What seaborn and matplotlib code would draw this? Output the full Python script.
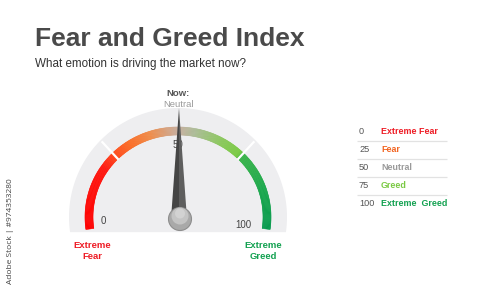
import numpy as np
import matplotlib
matplotlib.use("Agg")
import matplotlib.pyplot as plt
import seaborn as sns
from matplotlib.colors import LinearSegmentedColormap

# ---------------- data ----------------
title = "Fear and Greed Index"
subtitle = "What emotion is driving the market now?"
needle_value = 50
now_label = "Neutral"
zone_bounds = [0, 25, 75, 100]
gauge_ticks = [0, 50, 100]
end_labels = ["Extreme\nFear", "Extreme\nGreed"]
table_values = [0, 25, 50, 75, 100]
table_labels = ["Extreme Fear", "Fear", "Neutral", "Greed", "Extreme  Greed"]
table_colors = ["#ee1c25", "#f26522", "#9a9a9a", "#7ac943", "#12a150"]
side_note = "Adobe Stock | #974353280"

# ---------------- style ----------------
sns.set_theme(style="white")
plt.rcParams["font.family"] = ["Liberation Sans", "DejaVu Sans"]

fig = plt.figure(figsize=(5, 2.94), dpi=100)
ax = fig.add_axes([0, 0, 1, 1])
ax.set_xlim(0, 500)
ax.set_ylim(294, 0)
ax.axis("off")

# gauge geometry (pixel space)
cx, cy = 178, 217
rx_out, ry_out = 93, 90
thick = 8
bg_r = 109

def val2ang(v):
    return np.interp(v, [0, 25, 75, 100], [188, 135, 45, -8])

def ell(t_deg, rx, ry):
    t = np.radians(t_deg)
    return cx + rx * np.cos(t), cy - ry * np.sin(t)

# background half disc
t = np.linspace(188, -8, 300)
bx, by = ell(t, bg_r, bg_r)
ax.fill(bx, by, color="#eeeef0", lw=0, zorder=1)

# gradient arc
stops_v = [0, 20, 25, 32, 40, 50, 56, 66, 74, 75, 88, 100]
stops_c = ["#ff0000", "#ff1810", "#ff4a1e", "#fb6e28", "#ef8c4a", "#c8ae9e",
           "#adbc98", "#8cc85e", "#7acb42", "#3cb54a", "#1aa84d", "#079a4e"]
cmap = LinearSegmentedColormap.from_list(
    "fg", list(zip(np.array(stops_v) / 100, stops_c)))
vals = np.linspace(0, 100, 301)
for a, b in zip(vals[:-1], vals[1:]):
    ta = np.linspace(val2ang(a), val2ang(b), 4)
    ox, oy = ell(ta, rx_out, ry_out)
    ix, iy = ell(ta[::-1], rx_out - thick, ry_out - thick)
    ax.fill(np.r_[ox, ix], np.r_[oy, iy], color=cmap((a + b) / 200),
            lw=0.4, ec=cmap((a + b) / 200), zorder=2)

# zone separators
for v in zone_bounds[1:-1]:
    ang = val2ang(v)
    x1, y1 = ell(ang, rx_out - thick - 1, ry_out - thick - 1)
    x2, y2 = ell(ang, bg_r - 1, bg_r - 2)
    ax.plot([x1, x2], [y1, y2], color="white", lw=1.6, zorder=3,
            solid_capstyle="butt")

# tick labels
tick_pos = {0: (103, 221), 50: (178, 145), 100: (243, 225)}
for v in gauge_ticks:
    x, y = tick_pos[v]
    ax.text(x, y, str(v), ha="center", va="center", fontsize=7,
            color="#444444", zorder=4)

# end labels
ax.text(92, 251, end_labels[0], ha="center", va="center", fontsize=6.8,
        fontweight="bold", color="#ee1c25", linespacing=1.2, zorder=4)
ax.text(263, 251, end_labels[1], ha="center", va="center", fontsize=6.8,
        fontweight="bold", color="#12a150", linespacing=1.2, zorder=4)

# needle
px, py = 179, 219
ang = np.radians(val2ang(needle_value))
L, w = 111, 8
dx, dy = np.cos(ang), -np.sin(ang)
nx, ny = -dy, dx
tipx, tipy = px + L * dx, py + L * dy
ax.fill([px - w * nx, tipx, px], [py - w * ny, tipy, py],
        color="#454545", lw=0, zorder=5)
ax.fill([px, tipx, px + w * nx], [py, tipy, py + w * ny],
        color="#5e5e5e", lw=0, zorder=5)

# knob
knob = plt.Circle((180, 219), 11.5, color="#a9a9a9", ec="#8d8d8d",
                  lw=0.8, zorder=6)
ax.add_patch(knob)
ax.add_patch(plt.Circle((180, 216), 8.5, color="#c4c4c4", lw=0, zorder=6))
ax.add_patch(plt.Circle((180, 213.5), 5, color="#d2d2d2", lw=0, zorder=6))

# now label
ax.text(178, 94, "Now:", ha="center", va="center", fontsize=6.8,
        fontweight="bold", color="#555555", zorder=7)
ax.text(178, 104.5, now_label, ha="center", va="center", fontsize=6.8,
        color="#9a9a9a", zorder=7)

# titles
ax.text(35, 45.5, title, ha="left", va="baseline", fontsize=19,
        fontweight="bold", color="#4a4a4a")
ax.text(35, 67.5, subtitle, ha="left", va="baseline", fontsize=8.4,
        color="#333333")

# table
row_y = [132, 150, 168, 186, 204]
for i, (v, lab, col) in enumerate(zip(table_values, table_labels, table_colors)):
    ax.text(359, row_y[i], str(v), ha="left", va="center", fontsize=6.6,
            color="#555555")
    ax.text(381, row_y[i], lab, ha="left", va="center", fontsize=6.4,
            fontweight="bold", color=col)
    if i < len(table_values) - 1:
        ax.hlines(row_y[i] + 8.5, 357, 447, color="#e2e2e2", lw=0.9)

# side note
ax.text(11, 231, side_note, rotation=90, ha="center", va="center",
        fontsize=6, color="#444444", family=["Open Sans", "DejaVu Sans"])

fig.savefig("out.png", dpi=100, facecolor="white")
